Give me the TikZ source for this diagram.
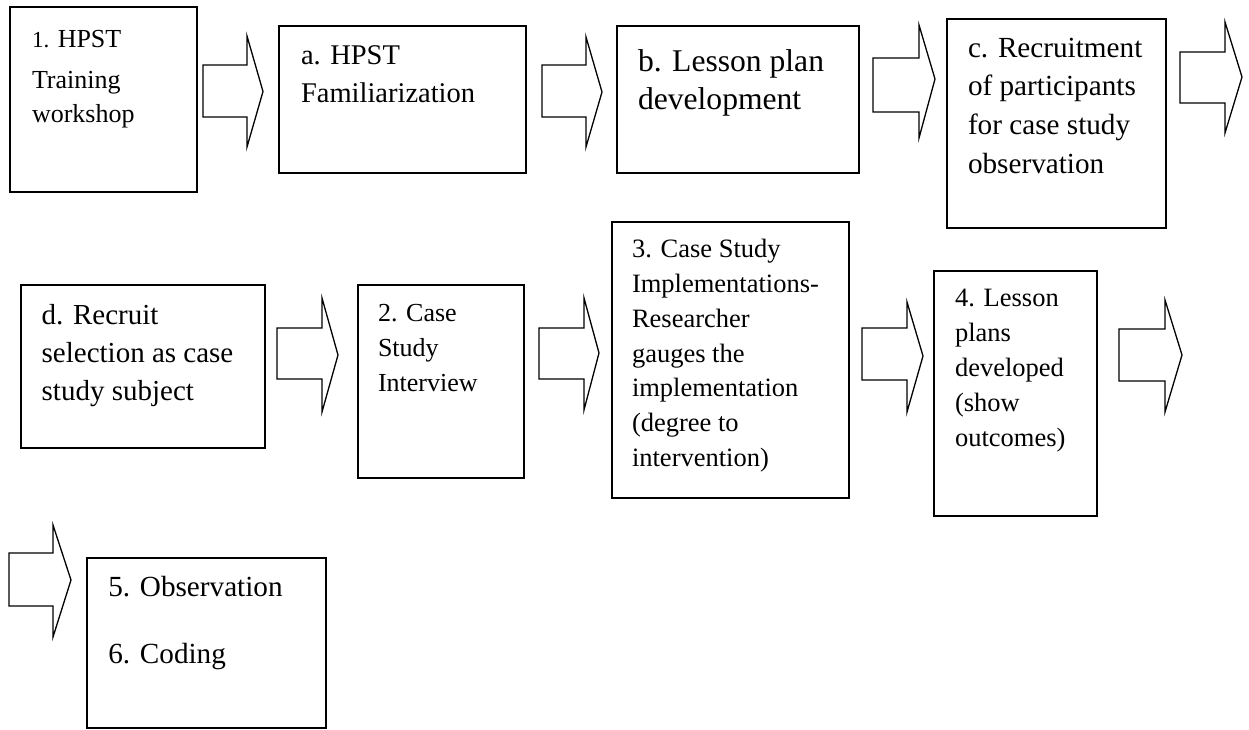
\documentclass[tikz,border=0pt]{standalone}
\usepackage{fontspec}
\setmainfont{Liberation Serif}
\newcommand{\blockarr}[8]{%
  \draw[arr] (#1,#4) -- (#2,#4) -- (#2,#6) -- (#3,#8) -- (#2,#7) -- (#2,#5) -- (#1,#5) -- cycle;}
\newcommand{\fs}[2]{\fontsize{#1}{#2}\selectfont}
\begin{document}
\begin{tikzpicture}[x=1pt,y=-1pt,
  box/.style={draw=black, line width=1.5pt, rectangle, inner sep=0pt, outer sep=0pt, anchor=north west},
  arr/.style={draw=black, line width=1.3pt, line join=miter, fill=white},
  txt/.style={anchor=base west, inner sep=0pt, outer sep=0pt, align=left}]
\useasboundingbox[fill=white] (0,0) rectangle (1249,730);

% boxes
\node[box, minimum width=187pt, minimum height=185pt] (b1) at (10,7) {};
\node[box, minimum width=247pt, minimum height=147pt] (ba) at (279,26) {};
\node[box, minimum width=242pt, minimum height=147pt] (bb) at (617,26) {};
\node[box, minimum width=219pt, minimum height=209pt] (bc) at (947,19) {};
\node[box, minimum width=244pt, minimum height=163pt] (bd) at (21,285) {};
\node[box, minimum width=166pt, minimum height=193pt] (b2) at (358,285) {};
\node[box, minimum width=237pt, minimum height=276pt] (b3) at (612,222) {};
\node[box, minimum width=163pt, minimum height=245pt] (b4) at (934,271) {};
\node[box, minimum width=239pt, minimum height=170pt] (b5) at (87,558) {};

% texts (anchored at the baseline of the last line)
\node[txt, font=\fs{26}{34.4}] (t1) at (32,122.7)
  {{\fs{23}{23}1.}\hspace{8.5pt}HPST\\[6.2pt]Training\\workshop};
\node[txt, font=\fs{28.5}{38}] (ta) at (301,103) {a. HPST\\Familiarization};
\node[txt, font=\fs{31.6}{37.5}] (tb) at (638,109.5) {b. Lesson plan\\development};
\node[txt, font=\fs{29.2}{38.7}] (tc) at (968,173.1)
  {c. Recruitment\\of participants\\for case study\\observation};
\node[txt, font=\fs{29}{38}] (td) at (41.7,400)
  {d. Recruit\\selection as case\\study subject};
\node[txt, font=\fs{26}{35}] (t2) at (378,391.7) {2. Case\\Study\\Interview};
\node[txt, font=\fs{26.5}{34.9}] (t3) at (632,466.7)
  {3. Case Study\\Implementations-\\Researcher\\gauges the\\implementation\\(degree to\\intervention)};
\node[txt, font=\fs{26.5}{35}] (t4) at (955,446.7)
  {4. Lesson\\plans\\developed\\(show\\outcomes)};
\node[txt, font=\fs{29.2}{66.6}] (t5) at (108.3,663.3) {5. Observation\\6. Coding};

% block arrows
\blockarr{203}{247}{263}{65}{117}{36}{147}{91.5}
\blockarr{542}{586}{602}{65}{117}{37}{147}{92}
\blockarr{873}{919}{935}{58}{112}{25}{138}{79}
\blockarr{1180}{1225}{1242}{52}{103}{22}{133}{77}
\blockarr{277}{322}{338}{328}{379}{298}{412}{355}
\blockarr{539}{584}{599}{328}{379}{298}{410}{353}
\blockarr{862}{907}{923}{328}{380}{302}{412}{356}
\blockarr{1119}{1165}{1182}{329}{381}{300}{412}{355}
\blockarr{9}{53}{71}{553}{606}{525}{637}{580}
\end{tikzpicture}
\end{document}
